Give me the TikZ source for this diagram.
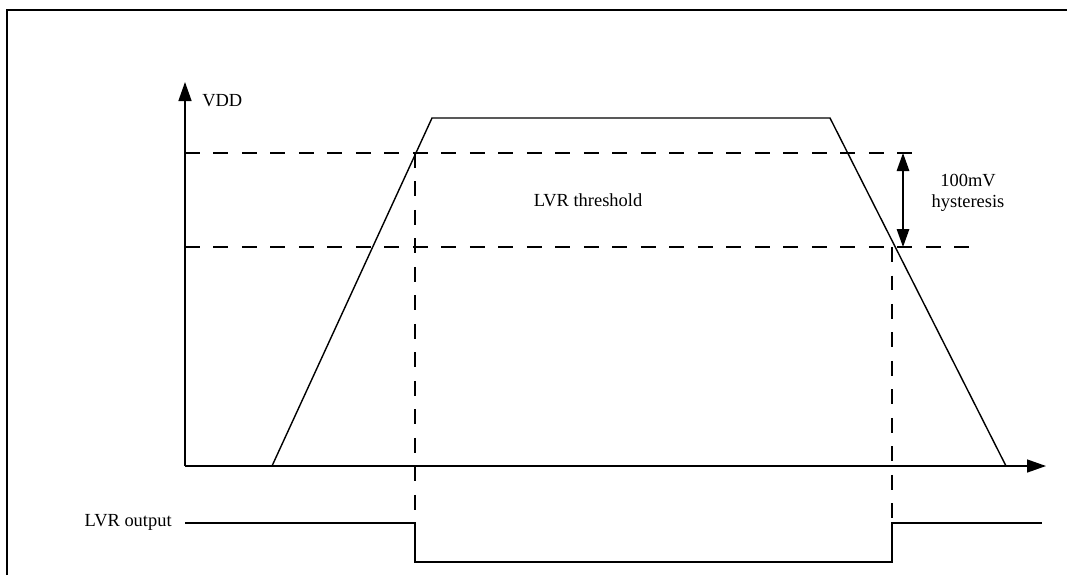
\documentclass[tikz,border=0pt]{standalone}
\usepackage{fontspec}
\setmainfont{Liberation Serif}
\usetikzlibrary{arrows.meta}

\tikzset{
  wave/.style={line width=0.8pt},
  level/.style={line width=0.8pt, dash pattern=on 0.3cm off 0.27cm},
  axis/.style={line width=0.8pt, -{Triangle[length=0.38cm,width=0.26cm]}},
  lbl/.style={font=\fontsize{10.5}{12}\selectfont, inner sep=0pt},
}

\begin{document}
\begin{tikzpicture}[x=0.02cm,y=-0.02cm]
        \useasboundingbox (0,0) rectangle (1067,575);
        \draw[line width=0.9pt] (7,575) -- (7,10) -- (1067,10);

        % axes
        \coordinate (O) at (185,466);
        \coordinate (ytip) at (185,82);
        \coordinate (xtip) at (1046,466);
        \draw[axis] (O) -- (ytip);
        \draw[axis] (O) -- (xtip);
        \node[lbl, anchor=west] (vdd) at (202,101) {VDD};

        % supply ramp
        \coordinate (r0) at (272,466);
        \coordinate (r1) at (432,118);
        \coordinate (r2) at (830,118);
        \coordinate (r3) at (1006,466);
        \draw[wave] (r0) -- (r1) -- (r2) -- (r3);

        % thresholds
        \coordinate (thA) at (185,153);
        \coordinate (thAend) at (918,153);
        \coordinate (thB) at (185,247);
        \coordinate (thBend) at (975,247);
        \draw[level] (thA) -- (thAend);
        \draw[level] (thB) -- (thBend);
        \node[lbl] (thr) at (588,200) {LVR threshold};

        % hysteresis
        \coordinate (hA) at (903,153);
        \coordinate (hB) at (903,247);
        \draw[line width=0.8pt, {Triangle[length=0.36cm,width=0.25cm]}-{Triangle[length=0.36cm,width=0.25cm]}] (hA) -- (hB);
        \node[lbl, align=center] (hyst) at (968,193) {100mV\\hysteresis};

        % output
        \coordinate (fall) at (415,153);
        \coordinate (rise) at (892,247);
        \coordinate (o0) at (185,523);
        \coordinate (o1) at (415,523);
        \coordinate (o2) at (415,562);
        \coordinate (o3) at (892,562);
        \coordinate (o4) at (892,523);
        \coordinate (o5) at (1042,523);
        \draw[level] (fall) -- (o1);
        \draw[level] (rise) -- (o4);
        \draw[wave] (o0) -- (o1) -- (o2) -- (o3) -- (o4) -- (o5);
        \node[lbl, anchor=east] (out) at (172,522) {LVR output};
\end{tikzpicture}
\end{document}
